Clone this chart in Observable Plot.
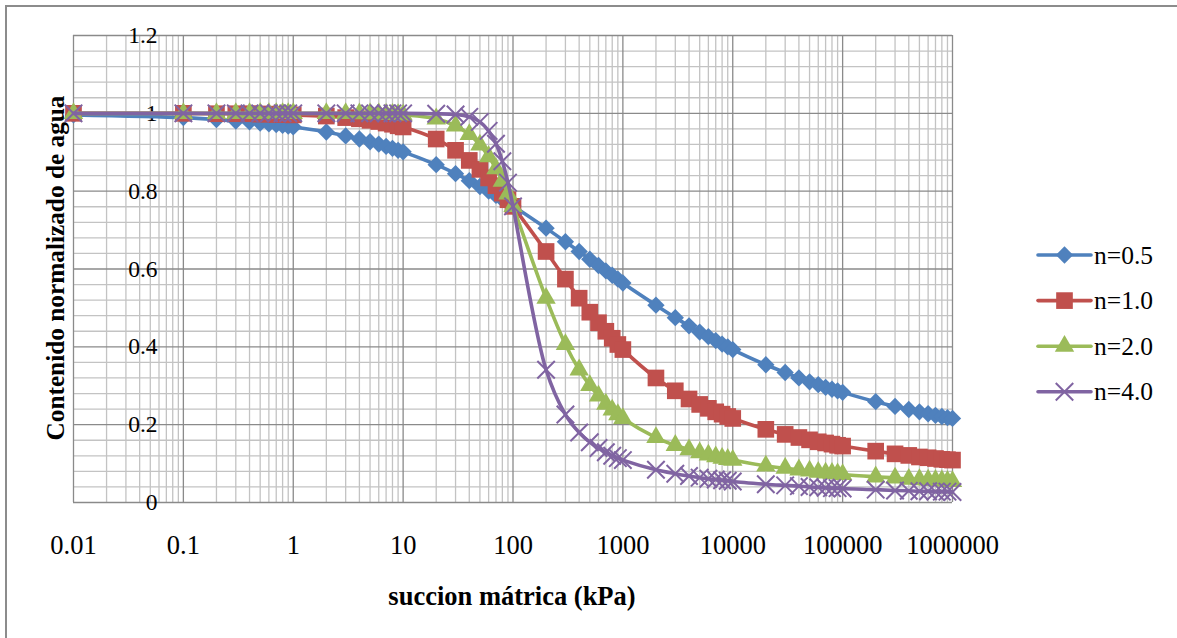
<!DOCTYPE html>
<html><head><meta charset="utf-8">
<script src="https://cdn.jsdelivr.net/npm/d3@7"></script>
<script src="https://cdn.jsdelivr.net/npm/@observablehq/plot@0.6"></script>
<style>
body{margin:0;background:#fff;}
#wrap{position:relative;width:1177px;height:638px;overflow:hidden;background:#fff;font-family:"Liberation Serif","Times New Roman",serif;}
#frame{position:absolute;left:5px;top:5px;width:1300px;height:700px;border-left:2px solid #8c8c8c;border-top:2px solid #8c8c8c;}
#chart{position:absolute;left:0;top:0;}
</style></head><body>
<div id="wrap"><div id="frame"></div><div id="chart"></div></div>
<script>
// ---- data ----
const suction = [0.01,
  0.1,0.2,0.3,0.4,0.5,0.6,0.7,0.8,0.9,
  1,2,3,4,5,6,7,8,9,
  10,20,30,40,50,60,70,80,90,
  100,200,300,400,500,600,700,800,900,
  1000,2000,3000,4000,5000,6000,7000,8000,9000,
  10000,20000,30000,40000,50000,60000,70000,80000,90000,
  100000,200000,300000,400000,500000,600000,700000,800000,900000,
  1000000];
const seriesNames = ["n=0.5","n=1.0","n=2.0","n=4.0"];
const n05 = [0.996,
  0.989,0.984,0.980,0.978,0.975,0.973,0.971,0.969,0.967,
  0.965,0.952,0.942,0.934,0.927,0.921,0.915,0.910,0.905,
  0.901,0.868,0.845,0.827,0.812,0.800,0.789,0.779,0.770,
  0.762,0.705,0.670,0.645,0.625,0.609,0.595,0.584,0.574,
  0.564,0.507,0.475,0.454,0.438,0.426,0.416,0.407,0.400,
  0.393,0.354,0.334,0.320,0.310,0.303,0.296,0.291,0.287,
  0.283,0.259,0.247,0.239,0.233,0.228,0.224,0.221,0.218,
  0.216];
const n10 = [1.000,
  1.000,0.999,0.999,0.999,0.998,0.998,0.997,0.997,0.997,
  0.996,0.993,0.989,0.986,0.982,0.979,0.975,0.972,0.968,
  0.965,0.934,0.905,0.879,0.856,0.834,0.814,0.795,0.778,
  0.761,0.645,0.574,0.525,0.489,0.462,0.440,0.422,0.406,
  0.393,0.320,0.287,0.266,0.252,0.242,0.233,0.227,0.221,
  0.216,0.188,0.175,0.167,0.161,0.156,0.153,0.150,0.147,
  0.145,0.132,0.125,0.121,0.117,0.115,0.113,0.111,0.110,
  0.109];
const n20 = [1.000,
  1.000,1.000,1.000,1.000,1.000,1.000,1.000,1.000,1.000,
  1.000,1.000,1.000,0.999,0.999,0.999,0.998,0.998,0.997,
  0.996,0.986,0.968,0.946,0.919,0.889,0.858,0.826,0.793,
  0.761,0.525,0.406,0.341,0.301,0.274,0.253,0.238,0.226,
  0.216,0.167,0.147,0.136,0.128,0.122,0.118,0.114,0.111,
  0.109,0.094,0.088,0.084,0.081,0.078,0.076,0.075,0.074,
  0.072,0.066,0.063,0.060,0.059,0.058,0.057,0.056,0.055,
  0.054];
const n40 = [1.000,
  1.000,1.000,1.000,1.000,1.000,1.000,1.000,1.000,1.000,
  1.000,1.000,1.000,1.000,1.000,1.000,1.000,1.000,1.000,
  1.000,0.999,0.997,0.991,0.978,0.955,0.922,0.877,0.822,
  0.761,0.341,0.226,0.180,0.155,0.140,0.129,0.120,0.114,
  0.109,0.084,0.074,0.068,0.064,0.061,0.059,0.057,0.056,
  0.054,0.047,0.044,0.042,0.040,0.039,0.038,0.037,0.037,
  0.036,0.033,0.031,0.030,0.029,0.029,0.028,0.028,0.028,
  0.027];
const xTicks = [0.01,0.1,1,10,100,1000,10000,100000,1000000];
const xTickLabels = ["0.01","0.1","1","10","100","1000","10000","100000","1000000"];
const yTicks = [0,0.2,0.4,0.6,0.8,1,1.2];
const yTickLabels = ["0","0.2","0.4","0.6","0.8","1","1.2"];
const xTitle = "succion mátrica (kPa)";
const yTitle = "Contenido normalizado de agua";

// ---- styles ----
const FONT = "'Liberation Serif','Times New Roman',serif";
const colors = ["#4F81BD","#C0504D","#9BBB59","#8064A2"];
const symbols = ["diamond2","square","triangle","times"];
const radii = [7.8, 9.4, 7.2, 8.0];
const values = [n05, n10, n20, n40];

const xMinor = [];
for (let k = 0; k < xTicks.length - 1; k++) for (let m = 2; m <= 9; m++) xMinor.push(+(xTicks[k]*m).toPrecision(3));
const yMinor = [];
for (let i = 1; i < 30; i++) if (i % 5 !== 0) yMinor.push(+(i*0.04).toFixed(2));

const rows = values.map((vals, s) => suction.map((x, i) => ({series: seriesNames[s], x, y: vals[i]})));

const W = 1177, H = 638;
const xLab = new Map(xTicks.map((t, i) => [t, xTickLabels[i]]));
const yLab = new Map(yTicks.map((t, i) => [t, yTickLabels[i]]));

const marks = [
  Plot.ruleX(xMinor, {stroke: "#c3c3c3", strokeWidth: 1.3}),
  Plot.ruleY(yMinor, {stroke: "#c3c3c3", strokeWidth: 1.3}),
  Plot.ruleY(yTicks, {stroke: "#8a8a8a", strokeWidth: 1.3}),
  Plot.ruleX(xTicks, {stroke: "#8a8a8a", strokeWidth: 1.3}),
  Plot.axisX({ticks: xTicks, tickFormat: d => xLab.get(d), tickSize: 0, tickPadding: 33, fontSize: 26.5, label: null}),
  Plot.axisY({ticks: yTicks, tickFormat: d => yLab.get(d), tickSize: 0, tickPadding: 0, dx: 84, fontSize: 23.5, label: null})
];
rows.forEach((data, s) => {
  marks.push(Plot.line(data, {x: "x", y: "y", stroke: colors[s], strokeWidth: 3.6, curve: "catmull-rom", strokeLinecap: "round", strokeLinejoin: "round"}));
  if (symbols[s] === "times") {
    marks.push(Plot.dot(data, {x: "x", y: "y", symbol: "times", r: radii[s], stroke: colors[s], strokeWidth: 2}));
  } else {
    marks.push(Plot.dot(data, {x: "x", y: "y", symbol: symbols[s], r: radii[s], fill: colors[s], stroke: "none"}));
  }
});

const svg = Plot.plot({
  width: W, height: H,
  marginLeft: 73, marginRight: 225, marginTop: 35, marginBottom: 136,
  x: {type: "log", domain: [0.01, 1000000], label: null},
  y: {domain: [0, 1.2], label: null},
  style: {fontFamily: FONT, fontSize: "24px", color: "#000", background: "transparent", overflow: "visible"},
  marks
});
document.getElementById("chart").appendChild(svg);

// titles
const s = d3.select(svg);
s.append("text").attr("x", 512).attr("y", 605).attr("text-anchor", "middle").attr("font-family", FONT)
  .attr("font-weight", "bold").attr("font-size", 26.5).attr("fill", "#000").text(xTitle);
s.append("text").attr("transform", "translate(64,268) rotate(-90)").attr("text-anchor", "middle").attr("font-family", FONT)
  .attr("font-weight", "bold").attr("font-size", 25.3).attr("fill", "#000").text(yTitle);

// legend
const symMap = {diamond2: d3.symbolDiamond2, square: d3.symbolSquare, triangle: d3.symbolTriangle, times: d3.symbolTimes};
seriesNames.forEach((name, i) => {
  const yy = 255 + i * 45.6;
  const g = s.append("g");
  g.append("line").attr("x1", 1038).attr("x2", 1091).attr("y1", yy).attr("y2", yy)
    .attr("stroke", colors[i]).attr("stroke-width", 3.6).attr("stroke-linecap", "round");
  const p = d3.symbol(symMap[symbols[i]], Math.PI * radii[i] * radii[i])();
  const path = g.append("path").attr("d", p).attr("transform", `translate(1064.5,${yy})`);
  if (symbols[i] === "times") path.attr("fill", "none").attr("stroke", colors[i]).attr("stroke-width", 2);
  else path.attr("fill", colors[i]);
  g.append("text").attr("x", 1094).attr("y", yy + 8.5).attr("text-anchor", "start").attr("font-family", FONT)
    .attr("font-size", 25.5).attr("fill", "#000").text(name);
});
</script>
</body></html>
